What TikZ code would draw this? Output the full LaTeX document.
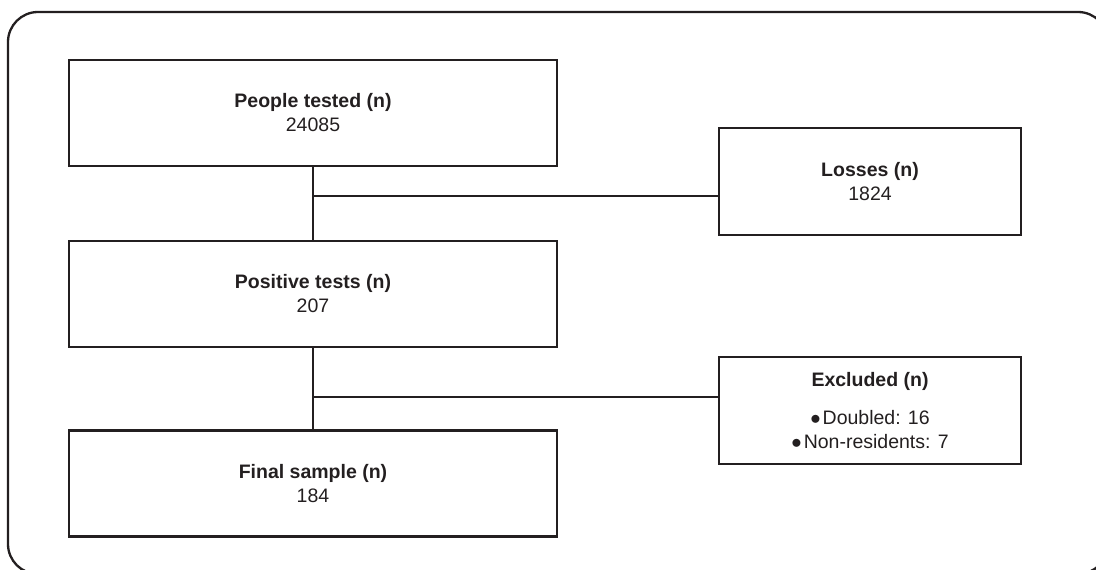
\documentclass[tikz,border=0pt]{standalone}
\usepackage{fontspec}
\setmainfont{Liberation Sans}
\definecolor{ink}{HTML}{231F20}
\begin{document}
\begin{tikzpicture}[x=1pt,y=-1pt,
  box/.style={draw=ink, line width=2.3pt, minimum width=488pt, minimum height=106pt,
    inner sep=0pt, align=center, text=ink, font=\fontsize{19.5}{24}\selectfont},
  sidebox/.style={box, minimum width=302pt, minimum height=107pt},
  link/.style={draw=ink, line width=2.3pt}]
\useasboundingbox (0,0) rectangle (1096,570);
% frame
\draw[ink, line width=2.3pt, rounded corners=30pt] (8,12) rectangle (1108,574);
% main column
\node[box] (tested) at (313,113) {\textbf{People tested (n)}\\24085};
\node[box] (positive) at (313,294) {\textbf{Positive tests (n)}\\207};
\node[box] (final) at (313,483.5) {\textbf{Final sample (n)}\\184};
% side column
\node[sidebox] (losses) at (870,181.5) {\textbf{Losses (n)}\\1824};
\node[sidebox] (excluded) at (870,410.5) {\textbf{Excluded (n)}\\[14pt]
  $\bullet$\kern2pt Doubled: 16\\$\bullet$\kern2pt Non-residents: 7};
% connectors
\coordinate (split1) at (313,196);
\coordinate (split2) at (313,397);
\draw[link] (tested.south) -- (positive.north);
\draw[link] (positive.south) -- (final.north);
\draw[link] (split1) -- (split1 -| losses.west);
\draw[link] (split2) -- (split2 -| excluded.west);
\end{tikzpicture}
\end{document}
